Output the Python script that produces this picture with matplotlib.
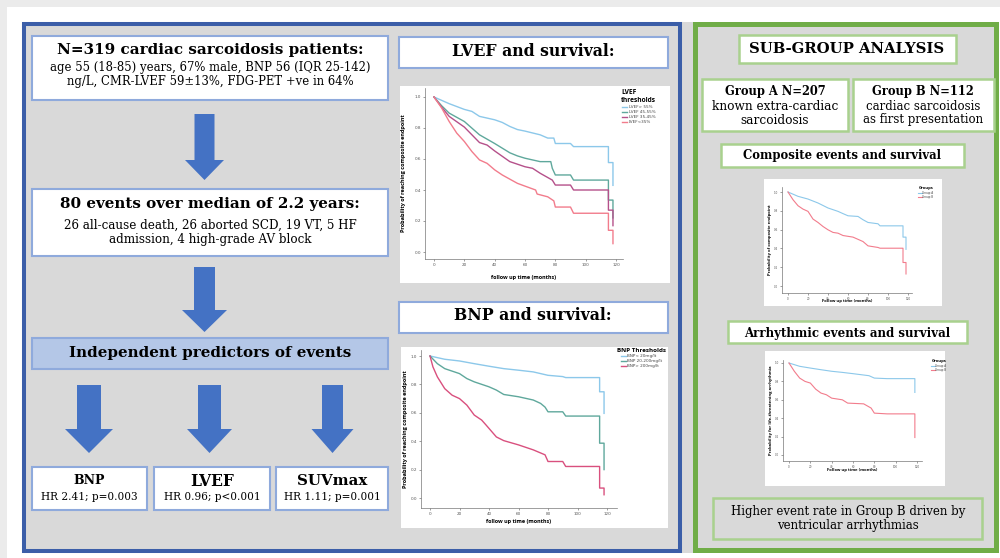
"""Graphical abstract: cardiac sarcoidosis outcomes with Kaplan-Meier panels."""

import matplotlib.pyplot as plt
from matplotlib.patches import Polygon, Rectangle

W, H = 1000, 558
SERIF = "DejaVu Serif"
SANS = "Open Sans"

BLUE_EDGE = "#3b5ea8"
BOX_EDGE = "#8faadc"
GREEN_EDGE = "#70ad47"
GREEN_BOX = "#a9d18e"
PANEL_BG = "#d9d9d9"
ARROW_BLUE = "#4472c4"

C_LBLUE = "#8cc8ea"
C_TEAL = "#5fa89c"
C_MAGENTA = "#b5508a"
C_PINK = "#f27c8c"
C_RED = "#d9507e"

# ---- LVEF and survival (months, survival probability) ----
LVEF_LABELS = ["LVEF> 55%", "LVEF 45-55%", "LVEF 35-45%", "LVEF<35%"]
LVEF_GT55_T = [0, 10, 20, 25, 30, 40, 45, 50, 55, 60, 70, 75, 79, 80, 90, 92, 115, 115, 118, 118]
LVEF_GT55_S = [1.0, 0.957, 0.92, 0.907, 0.875, 0.853, 0.836, 0.81, 0.79, 0.78, 0.756, 0.735, 0.735, 0.70,
               0.70, 0.68, 0.68, 0.577, 0.577, 0.43]
LVEF_45_55_T = [0, 5, 10, 20, 30, 40, 50, 55, 60, 70, 77, 78, 80, 90, 92, 115, 115, 118, 118]
LVEF_45_55_S = [1.0, 0.944, 0.896, 0.842, 0.756, 0.70, 0.64, 0.62, 0.605, 0.583, 0.583, 0.54, 0.497,
                0.497, 0.464, 0.464, 0.335, 0.335, 0.22]
LVEF_35_45_T = [0, 5, 10, 20, 30, 35, 40, 50, 60, 65, 70, 78, 80, 90, 92, 115, 115, 118, 118]
LVEF_35_45_S = [1.0, 0.935, 0.875, 0.806, 0.706, 0.69, 0.652, 0.583, 0.55, 0.54, 0.508, 0.464, 0.432,
                0.432, 0.40, 0.40, 0.27, 0.27, 0.17]
LVEF_LT35_T = [0, 5, 10, 15, 20, 25, 30, 35, 40, 45, 50, 55, 60, 67, 68, 75, 79, 80, 90, 92, 115, 115, 118, 118]
LVEF_LT35_S = [1.0, 0.93, 0.842, 0.767, 0.713, 0.648, 0.594, 0.572, 0.53, 0.497, 0.47, 0.443, 0.425, 0.40,
               0.374, 0.356, 0.33, 0.29, 0.29, 0.25, 0.25, 0.14, 0.14, 0.054]

# ---- BNP and survival ----
BNP_LABELS = ["BNP< 20mg/lt", "BNP 20-200mg/lt", "BNP> 200mg/lt"]
BNP_LOW_T = [0, 10, 20, 30, 40, 50, 60, 70, 80, 90, 92, 115, 115, 118, 118]
BNP_LOW_S = [1.0, 0.977, 0.965, 0.946, 0.928, 0.911, 0.90, 0.888, 0.864, 0.855, 0.848, 0.848, 0.748,
             0.748, 0.596]
BNP_MID_T = [0, 5, 10, 20, 25, 30, 40, 45, 50, 60, 70, 75, 78, 80, 90, 92, 115, 115, 118, 118]
BNP_MID_S = [1.0, 0.946, 0.911, 0.876, 0.841, 0.818, 0.783, 0.76, 0.729, 0.713, 0.69, 0.666, 0.64, 0.607,
             0.607, 0.577, 0.577, 0.386, 0.386, 0.20]
BNP_HIGH_T = [0, 2, 5, 10, 15, 20, 25, 30, 35, 38, 40, 45, 50, 60, 70, 78, 80, 90, 92, 115, 115, 118, 118]
BNP_HIGH_S = [1.0, 0.923, 0.853, 0.77, 0.724, 0.70, 0.654, 0.584, 0.549, 0.514, 0.49, 0.43, 0.404, 0.374,
              0.339, 0.304, 0.257, 0.257, 0.222, 0.222, 0.07, 0.07, 0.023]

# ---- Sub-group: composite events ----
GROUP_LABELS = ["Group A", "Group B"]
COMP_A_T = [0, 10, 20, 30, 40, 50, 55, 60, 70, 75, 80, 90, 92, 115, 115, 118, 118]
COMP_A_S = [1.0, 0.954, 0.925, 0.883, 0.83, 0.794, 0.77, 0.747, 0.74, 0.705, 0.676, 0.662, 0.64, 0.64,
            0.52, 0.52, 0.39]
COMP_B_T = [0, 5, 10, 15, 20, 25, 30, 35, 40, 45, 50, 55, 65, 75, 80, 90, 92, 115, 115, 118, 118]
COMP_B_S = [1.0, 0.918, 0.854, 0.818, 0.794, 0.712, 0.676, 0.633, 0.598, 0.57, 0.562, 0.537, 0.52, 0.473,
            0.427, 0.41, 0.402, 0.402, 0.25, 0.25, 0.128]

# ---- Sub-group: arrhythmic events ----
ARR_A_T = [0, 10, 20, 30, 40, 50, 60, 75, 80, 92, 118, 118]
ARR_A_S = [1.0, 0.964, 0.945, 0.927, 0.91, 0.898, 0.884, 0.862, 0.836, 0.83, 0.83, 0.68]
ARR_B_T = [0, 5, 10, 15, 20, 25, 30, 35, 40, 50, 55, 70, 77, 80, 92, 118, 118]
ARR_B_S = [1.0, 0.91, 0.836, 0.80, 0.782, 0.716, 0.673, 0.655, 0.618, 0.60, 0.564, 0.556, 0.51, 0.455,
           0.447, 0.447, 0.19]

XTICKS = [0, 20, 40, 60, 80, 100, 120]
YTICKS = [0.0, 0.2, 0.4, 0.6, 0.8, 1.0]


def rect(ax, x0, y0, x1, y1, face="white", edge=BOX_EDGE, lw=1.5, z=2):
    ax.add_patch(Rectangle((x0, y0), x1 - x0, y1 - y0, facecolor=face, edgecolor=edge, linewidth=lw, zorder=z))


def arrow(ax, cx, top, head_y, tip, shaft_w, head_w):
    pts = [(cx - shaft_w / 2, top), (cx + shaft_w / 2, top), (cx + shaft_w / 2, head_y),
           (cx + head_w / 2, head_y), (cx, tip), (cx - head_w / 2, head_y), (cx - shaft_w / 2, head_y)]
    ax.add_patch(Polygon(pts, closed=True, facecolor=ARROW_BLUE, edgecolor="none", zorder=3))


def txt(ax, x, y, s, size, bold=False, family=SERIF, **kw):
    ax.text(x, y, s, ha="center", va="center", fontsize=size, family=family,
            fontweight="bold" if bold else "normal", zorder=5, **kw)


def km_chart(fig, main, frame, x0px, x120px, y1px, y0px, spine_l, spine_b, top, right,
             curves, colors, labels, leg_title, leg_xy, ylabel, ylab_x, xlabel, xlab_y,
             fs=3.0, tfs=4.3, lw=1.0):
    rect(main, *frame, face="white", edge="none", lw=0, z=2)
    mpp = 120 / (x120px - x0px)
    upp = 1 / (y0px - y1px)
    ax = fig.add_axes([spine_l / W, 1 - spine_b / H, (right - spine_l) / W, (spine_b - top) / H])
    ax.set_facecolor("none")
    ax.set_xlim((spine_l - x0px) * mpp, (right - x0px) * mpp)
    ax.set_ylim(-(spine_b - y0px) * upp, 1 + (y1px - top) * upp)
    for (t, s), c, lab in zip(curves, colors, labels):
        ax.plot(t, s, color=c, lw=lw, label=lab)
    ax.set_xticks(XTICKS)
    ax.set_yticks(YTICKS)
    ax.set_yticklabels([f"{v:.1f}" for v in YTICKS])
    ax.tick_params(labelsize=fs, length=1.2, width=0.4, pad=1.5, colors="#555555")
    for side in ("top", "right"):
        ax.spines[side].set_visible(False)
    for side in ("left", "bottom"):
        ax.spines[side].set_color("#777777")
        ax.spines[side].set_linewidth(0.5)
    leg = ax.legend(loc="upper left", bbox_to_anchor=(leg_xy[0] / W, 1 - leg_xy[1] / H),
                    bbox_transform=fig.transFigure, frameon=False, fontsize=fs,
                    title=leg_title, handlelength=1.3, handletextpad=0.3, labelspacing=0.25,
                    borderpad=0, borderaxespad=0)
    leg.get_title().set_fontsize(tfs)
    leg.get_title().set_fontweight("bold")
    leg.get_title().set_family(SANS)
    for t in leg.get_texts():
        t.set_color("#444444")
    cy = (top + spine_b) / 2
    main.text(ylab_x, cy, ylabel, rotation=90, ha="center", va="center", fontsize=fs + 1,
              fontweight="bold", family=SANS, zorder=5)
    main.text((spine_l + right) / 2, xlab_y, xlabel, ha="center", va="center", fontsize=fs + 1,
              fontweight="bold", family=SANS, zorder=5)
    return ax


def main():
    fig = plt.figure(figsize=(10, 5.58), dpi=100)
    main_ax = fig.add_axes([0, 0, 1, 1])
    main_ax.set_xlim(0, W)
    main_ax.set_ylim(H, 0)
    main_ax.axis("off")

    # outer margins and panel backgrounds
    rect(main_ax, 0, 0, W, 7, face="#ebebeb", edge="none", lw=0, z=0)
    rect(main_ax, 0, 0, 7, H, face="#ebebeb", edge="none", lw=0, z=0)
    rect(main_ax, 22, 22, 998, 553, face=PANEL_BG, edge="none", lw=0, z=0)
    rect(main_ax, 24, 24, 680, 551, face="none", edge=BLUE_EDGE, lw=2.9, z=1)
    rect(main_ax, 695, 24, 996, 550, face="none", edge=GREEN_EDGE, lw=3.6, z=1)

    # left column: cohort flow
    rect(main_ax, 32, 36, 388, 100)
    txt(main_ax, 210, 50, "N=319 cardiac sarcoidosis patients:", 10.9, bold=True)
    txt(main_ax, 210, 68, "age 55 (18-85) years, 67% male, BNP 56 (IQR 25-142)", 8.4)
    txt(main_ax, 210, 82, "ng/L, CMR-LVEF 59±13%, FDG-PET +ve in 64%", 8.4)
    arrow(main_ax, 204.5, 114, 160, 180, 20, 39)

    rect(main_ax, 32, 189, 388, 256)
    txt(main_ax, 210, 204, "80 events over median of 2.2 years:", 10.9, bold=True)
    txt(main_ax, 210, 225, "26 all-cause death, 26 aborted SCD, 19 VT, 5 HF", 8.6)
    txt(main_ax, 210, 240, "admission, 4 high-grade AV block", 8.6)
    arrow(main_ax, 204.5, 267, 310, 332, 21, 45)

    rect(main_ax, 32, 338, 388, 369, face="#b4c7e7")
    txt(main_ax, 210, 353, "Independent predictors of events", 10.9, bold=True)

    for cx, sw, hw in [(89, 24, 48), (209.5, 23, 45), (332.5, 21, 42)]:
        arrow(main_ax, cx, 385, 429, 453, sw, hw)

    predictors = [("BNP", "HR 2.41; p=0.003", 32, 147, 9.0),
                  ("LVEF", "HR 0.96; p<0.001", 154, 270, 11.2),
                  ("SUVmax", "HR 1.11; p=0.001", 276, 388, 10.8)]
    for name, hr, x0, x1, fsz in predictors:
        rect(main_ax, x0, 467, x1, 510)
        txt(main_ax, (x0 + x1) / 2, 481, name, fsz, bold=True)
        txt(main_ax, (x0 + x1) / 2, 497, hr, 7.6)

    # middle column: KM charts
    rect(main_ax, 399, 37, 668, 68)
    txt(main_ax, 533, 52, "LVEF and survival:", 11.3, bold=True)
    km_chart(fig, main_ax, (400, 86, 670, 283), 434, 616, 97, 252, 425, 259, 88, 623,
             [(LVEF_GT55_T, LVEF_GT55_S), (LVEF_45_55_T, LVEF_45_55_S),
              (LVEF_35_45_T, LVEF_35_45_S), (LVEF_LT35_T, LVEF_LT35_S)],
             [C_LBLUE, C_TEAL, C_MAGENTA, C_PINK], LVEF_LABELS, "LVEF\nthresholds", (621, 89),
             "Probability of reaching composite endpoint", 404, "follow up time (months)", 277, tfs=4.8)

    rect(main_ax, 399, 302, 668, 333)
    txt(main_ax, 533, 316, "BNP and survival:", 11.3, bold=True)
    km_chart(fig, main_ax, (401, 347, 668, 528), 430, 607, 356, 498, 421, 508, 350, 617,
             [(BNP_LOW_T, BNP_LOW_S), (BNP_MID_T, BNP_MID_S), (BNP_HIGH_T, BNP_HIGH_S)],
             [C_LBLUE, C_TEAL, C_RED], BNP_LABELS, "BNP Thresholds", (617, 348),
             "Probability of reaching composite endpoint", 405, "follow up time (months)", 522, tfs=4.5)

    # right column: sub-group analysis
    rect(main_ax, 739, 35, 956, 63, edge=GREEN_BOX, lw=1.8)
    txt(main_ax, 847, 49, "SUB-GROUP ANALYSIS", 10.7, bold=True)
    rect(main_ax, 702, 79, 848, 131, edge=GREEN_BOX, lw=1.8)
    txt(main_ax, 775, 92, "Group A N=207", 8.3, bold=True)
    txt(main_ax, 775, 107, "known extra-cardiac", 8.7)
    txt(main_ax, 775, 120, "sarcoidosis", 8.7)
    rect(main_ax, 853, 79, 994, 131, edge=GREEN_BOX, lw=1.8)
    txt(main_ax, 923, 92, "Group B N=112", 8.3, bold=True)
    txt(main_ax, 923, 107, "cardiac sarcoidosis", 8.5)
    txt(main_ax, 923, 120, "as first presentation", 8.5)

    rect(main_ax, 721, 144, 964, 167, edge=GREEN_BOX, lw=1.8)
    txt(main_ax, 842, 156, "Composite events and survival", 8.4, bold=True)
    km_chart(fig, main_ax, (764, 179, 942, 306), 788, 908, 192, 286, 782, 293, 187, 912,
             [(COMP_A_T, COMP_A_S), (COMP_B_T, COMP_B_S)], [C_LBLUE, C_PINK], GROUP_LABELS,
             "Groups", (918, 186), "Probability of composite endpoint", 770,
             "Follow up time (months)", 301, fs=2.0, tfs=3.0, lw=0.8)

    rect(main_ax, 728, 321, 967, 343, edge=GREEN_BOX, lw=1.8)
    txt(main_ax, 847, 333, "Arrhythmic events and survival", 8.5, bold=True)
    km_chart(fig, main_ax, (765, 351, 945, 486), 789, 917, 363, 455, 783, 461, 360, 922,
             [(ARR_A_T, ARR_A_S), (ARR_B_T, ARR_B_S)], [C_LBLUE, C_PINK], GROUP_LABELS,
             "Groups", (931, 359), "Probability for life-threatening arrhythmia", 771,
             "Follow up time (months)", 470, fs=2.0, tfs=3.0, lw=0.8)

    rect(main_ax, 713, 498, 982, 539, face=PANEL_BG, edge=GREEN_BOX, lw=1.8)
    txt(main_ax, 848, 511, "Higher event rate in Group B driven by", 8.5)
    txt(main_ax, 848, 525, "ventricular arrhythmias", 8.5)

    fig.savefig("out.png", dpi=100)
    plt.close(fig)


if __name__ == "__main__":
    main()
